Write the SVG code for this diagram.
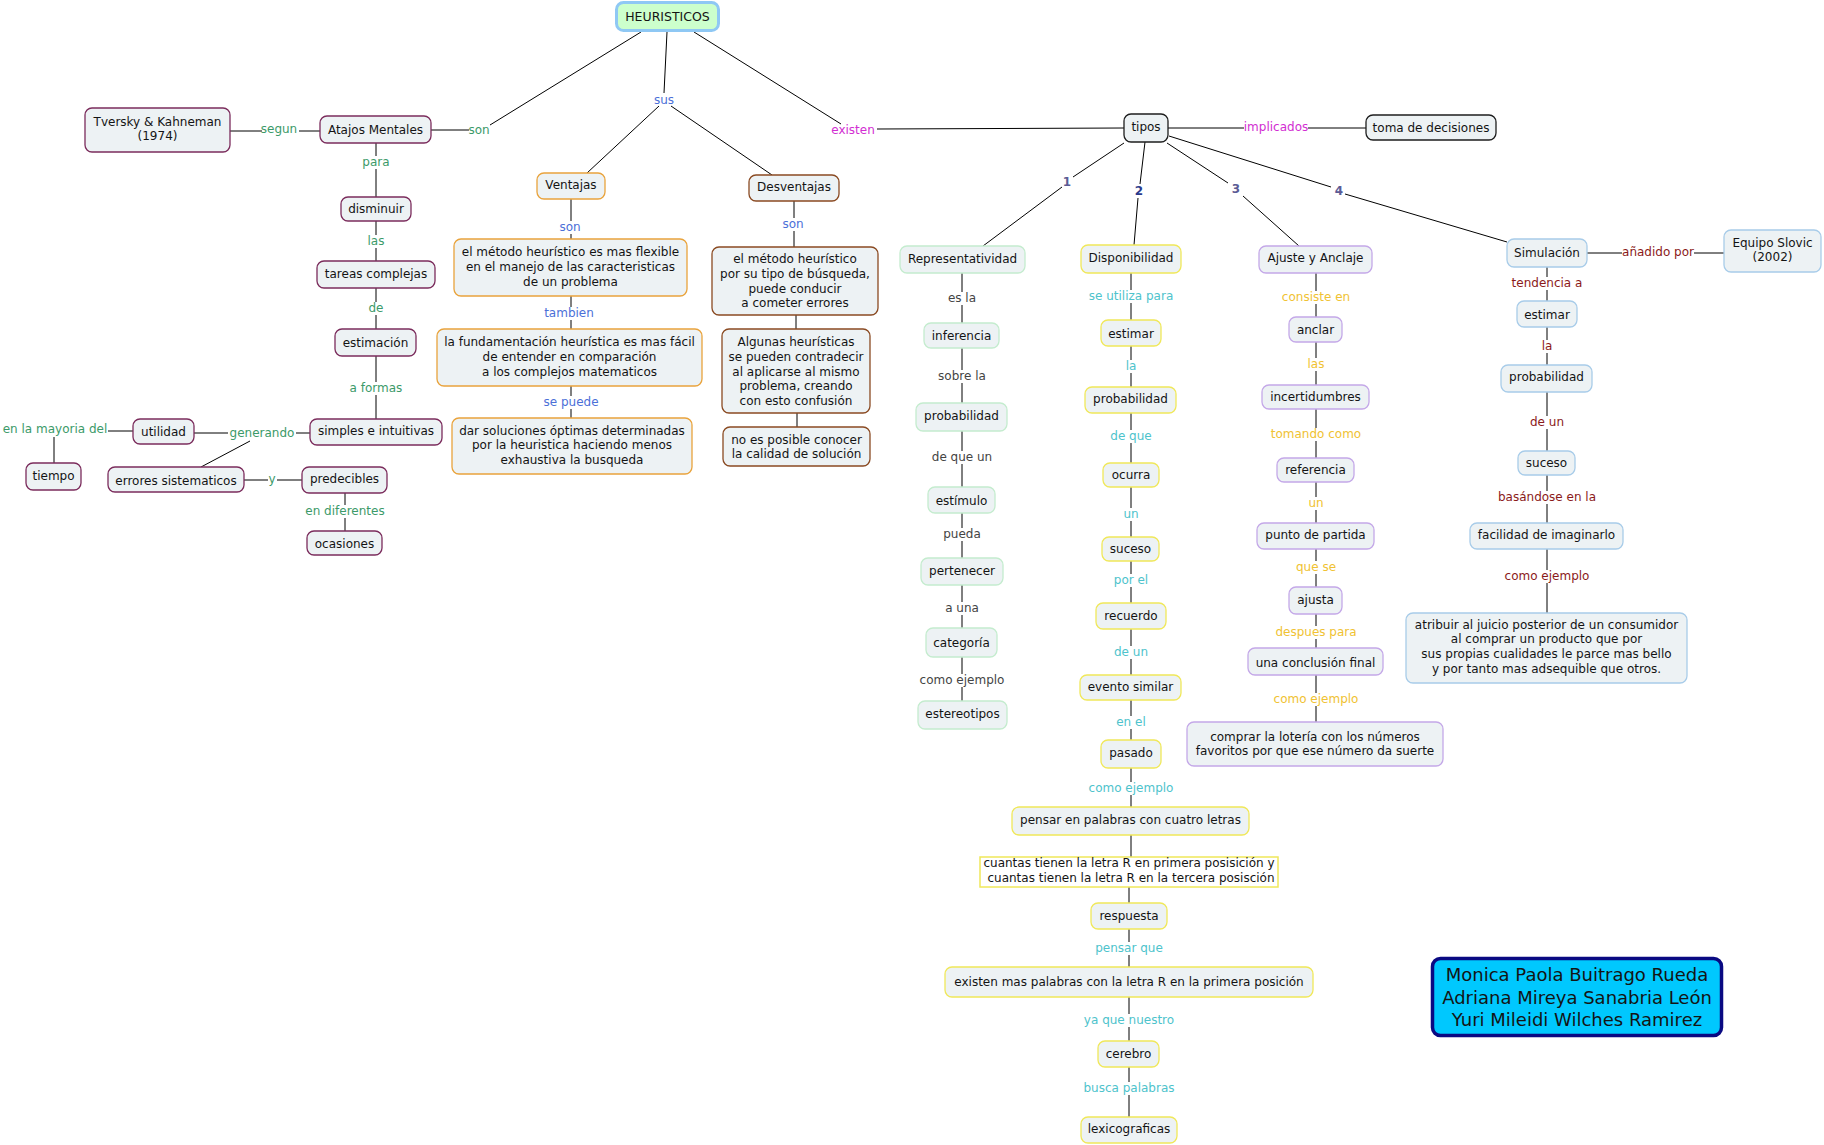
<svg xmlns="http://www.w3.org/2000/svg" width="1824" height="1145" viewBox="0 0 1824 1145">
<style>
text{font-family:"DejaVu Sans","Verdana",sans-serif;font-size:12px;text-anchor:middle}
.t{fill:#141414}
rect.n{fill:#edf2f4;stroke-width:1.3}
.ga{stroke:#7b2c5c}.gv{stroke:#e9a33c}.gd{stroke:#8a4a22}.gr{stroke:#c4ecce}.gp{stroke:#f0e85a}.gj{stroke:#c4a8e8}.gs{stroke:#a8cce9}.gt{stroke:#1e1e1e}
.la{fill:#3c9a69}.lv{fill:#4b70d8}.lr{fill:#444}.lp{fill:#4ec3cc}.lj{fill:#f0c232}.ls{fill:#8b1a1a}.lm{fill:#d22ed2}
.num{font-weight:bold;fill:#5b5b95}
#connectors path{fill:none;stroke:#000;stroke-width:1}
</style>
<rect width="1824" height="1145" fill="#fff"/>
<g id="connectors">
<path d="M230,131H262M299,131H320"/>
<path d="M431,130H469M490,125L641,32"/>
<path d="M376,143V156M376,169V197"/>
<path d="M376,221V235M376,248V261"/>
<path d="M376,288V302M376,315V329"/>
<path d="M376,356V382M376,395V419"/>
<path d="M194,433H228M296,433H310M250,441L201,467"/>
<path d="M108,431H133M54,437V463"/>
<path d="M244,480H268M277,480H302"/>
<path d="M345,493V505M345,518V531"/>
<path d="M667,32L664,93M659,106L587,173M671,106L772,175"/>
<path d="M571,199V221M571,234V239"/>
<path d="M571,296V307M571,320V329"/>
<path d="M571,386V396M571,409V418"/>
<path d="M794,201V218M794,231V247"/>
<path d="M796,315V329M797,413V427"/>
<path d="M694,32L841,124M877,129L1124,128"/>
<path d="M1168,128H1244M1308,128H1366"/>
<path d="M1124,143L1073,177M1062,187L983,246"/>
<path d="M1145,142L1140,184M1138,198L1134,245"/>
<path d="M1167,143L1228,183M1243,196L1299,246"/>
<path d="M1169,136L1331,187M1345,194L1507,242"/>
<path d="M962,273V292M962,305V323M962,348V370M962,383V403M962,431V451M962,464V487M962,513V528M962,541V558M962,585V602M962,615V628M962,657V674M962,687V701"/>
<path d="M1131,273V290M1131,303V320M1131,346V360M1131,373V387M1131,413V430M1131,443V463M1131,487V508M1131,521V537M1131,561V574M1131,587V603M1131,629V646M1131,659V675M1131,700V716M1131,729V740M1131,768V782M1131,795V807M1131,835V857"/>
<path d="M1129,887V903M1129,929V942M1129,955V967M1129,997V1014M1129,1027V1041M1129,1067V1082M1129,1095V1117"/>
<path d="M1316,273V291M1316,304V317M1316,342V358M1316,371V385M1316,409V428M1316,441V458M1316,482V497M1316,510V523M1316,549V561M1316,574V587M1316,614V626M1316,639V648M1316,675V693M1316,706V722"/>
<path d="M1587,253H1622M1694,253H1724"/>
<path d="M1547,267V277M1547,290V301M1547,327V340M1547,353V365M1547,392V416M1547,429V451M1547,475V491M1547,504V523M1547,549V570M1547,583V613"/>
</g>
<g id="labels">
<text class="la" x="279" y="133">segun</text>
<text class="la" x="479" y="134">son</text>
<text class="la" x="376" y="166">para</text>
<text class="la" x="376" y="245">las</text>
<text class="la" x="376" y="312">de</text>
<text class="la" x="376" y="392">a formas</text>
<text class="la" x="262" y="437">generando</text>
<text class="la" x="55" y="433">en la mayoria del</text>
<text class="la" x="272" y="483">y</text>
<text class="la" x="345" y="515">en diferentes</text>
<text class="lv" x="664" y="104">sus</text>
<text class="lv" x="570" y="231">son</text>
<text class="lv" x="569" y="317">tambien</text>
<text class="lv" x="571" y="406">se puede</text>
<text class="lv" x="793" y="228">son</text>
<text class="lm" x="853" y="134">existen</text>
<text class="lm" x="1276" y="131">implicados</text>
<text class="num" x="1067" y="186">1</text>
<text class="num" x="1139" y="195" style="fill:#2b3a8c">2</text>
<text class="num" x="1236" y="193">3</text>
<text class="num" x="1339" y="195">4</text>
<text class="lr" x="962" y="302">es la</text>
<text class="lr" x="962" y="380">sobre la</text>
<text class="lr" x="962" y="461">de que un</text>
<text class="lr" x="962" y="538">pueda</text>
<text class="lr" x="962" y="612">a una</text>
<text class="lr" x="962" y="684">como ejemplo</text>
<text class="lp" x="1131" y="300">se utiliza para</text>
<text class="lp" x="1131" y="370">la</text>
<text class="lp" x="1131" y="440">de que</text>
<text class="lp" x="1131" y="518">un</text>
<text class="lp" x="1131" y="584">por el</text>
<text class="lp" x="1131" y="656">de un</text>
<text class="lp" x="1131" y="726">en el</text>
<text class="lp" x="1131" y="792">como ejemplo</text>
<text class="lp" x="1129" y="952">pensar que</text>
<text class="lp" x="1129" y="1024">ya que nuestro</text>
<text class="lp" x="1129" y="1092">busca palabras</text>
<text class="lj" x="1316" y="301">consiste en</text>
<text class="lj" x="1316" y="368">las</text>
<text class="lj" x="1316" y="438">tomando como</text>
<text class="lj" x="1316" y="507">un</text>
<text class="lj" x="1316" y="571">que se</text>
<text class="lj" x="1316" y="636">despues para</text>
<text class="lj" x="1316" y="703">como ejemplo</text>
<text class="ls" x="1658" y="256">añadido por</text>
<text class="ls" x="1547" y="287">tendencia a</text>
<text class="ls" x="1547" y="350">la</text>
<text class="ls" x="1547" y="426">de un</text>
<text class="ls" x="1547" y="501">basándose en la</text>
<text class="ls" x="1547" y="580">como ejemplo</text>
</g>
<g id="heuristicos"><rect x="616.5" y="2.5" width="102" height="28" rx="7" fill="#ccffcc" stroke="#8fc8f4" stroke-width="3"/><text class="t" x="667.5" y="20.5" style="font-size:12.5px">HEURISTICOS</text></g>
<g id="tversky"><rect class="n ga" x="85" y="108" width="145" height="44" rx="7"/><text class="t" x="157.5" y="126">Tversky &amp; Kahneman</text><text class="t" x="157.5" y="140">(1974)</text></g>
<g id="atajos"><rect class="n ga" x="320" y="116" width="111" height="27" rx="7"/><text class="t" x="375.5" y="134">Atajos Mentales</text></g>
<g id="disminuir"><rect class="n ga" x="341" y="197" width="70" height="24" rx="7"/><text class="t" x="376" y="213">disminuir</text></g>
<g id="tareas"><rect class="n ga" x="317" y="261" width="118" height="27" rx="7"/><text class="t" x="376" y="278">tareas complejas</text></g>
<g id="estimacion"><rect class="n ga" x="335" y="329" width="81" height="27" rx="7"/><text class="t" x="375.5" y="347">estimación</text></g>
<g id="simples"><rect class="n ga" x="310" y="419" width="132" height="26" rx="7"/><text class="t" x="376" y="435">simples e intuitivas</text></g>
<g id="utilidad"><rect class="n ga" x="133" y="419" width="61" height="25" rx="7"/><text class="t" x="163.5" y="436">utilidad</text></g>
<g id="tiempo"><rect class="n ga" x="26" y="463" width="55" height="27" rx="7"/><text class="t" x="53.5" y="480">tiempo</text></g>
<g id="errores"><rect class="n ga" x="108" y="467" width="136" height="25" rx="7"/><text class="t" x="176" y="485">errores sistematicos</text></g>
<g id="predecibles"><rect class="n ga" x="302" y="467" width="85" height="26" rx="7"/><text class="t" x="344.5" y="483">predecibles</text></g>
<g id="ocasiones"><rect class="n ga" x="307" y="531" width="75" height="24" rx="7"/><text class="t" x="344.5" y="548">ocasiones</text></g>
<g id="ventajas"><rect class="n gv" x="537" y="173" width="68" height="26" rx="7"/><text class="t" x="571" y="189">Ventajas</text></g>
<g id="flexible"><rect class="n gv" x="454" y="239" width="233" height="57" rx="7"/><text class="t" x="570.5" y="256">el método heurístico es mas flexible</text><text class="t" x="570.5" y="271">en el manejo de las caracteristicas</text><text class="t" x="570.5" y="286">de un problema</text></g>
<g id="fundamentacion"><rect class="n gv" x="437" y="329" width="265" height="57" rx="7"/><text class="t" x="569.5" y="346">la fundamentación heurística es mas fácil</text><text class="t" x="569.5" y="361">de entender en comparación</text><text class="t" x="569.5" y="376">a los complejos matematicos</text></g>
<g id="soluciones"><rect class="n gv" x="452" y="418" width="240" height="56" rx="7"/><text class="t" x="572" y="435">dar soluciones óptimas determinadas</text><text class="t" x="572" y="449">por la heuristica haciendo menos</text><text class="t" x="572" y="464">exhaustiva la busqueda</text></g>
<g id="desventajas"><rect class="n gd" x="749" y="175" width="90" height="26" rx="7"/><text class="t" x="794" y="191">Desventajas</text></g>
<g id="metodo"><rect class="n gd" x="712" y="247" width="166" height="68" rx="7"/><text class="t" x="795" y="263">el método heurístico</text><text class="t" x="795" y="278">por su tipo de búsqueda,</text><text class="t" x="795" y="293">puede conducir</text><text class="t" x="795" y="307">a cometer errores</text></g>
<g id="algunas"><rect class="n gd" x="722" y="329" width="148" height="84" rx="7"/><text class="t" x="796" y="346">Algunas heurísticas</text><text class="t" x="796" y="361">se pueden contradecir</text><text class="t" x="796" y="376">al aplicarse al mismo</text><text class="t" x="796" y="390">problema, creando</text><text class="t" x="796" y="405">con esto confusión</text></g>
<g id="noes"><rect class="n gd" x="723" y="427" width="147" height="39" rx="7"/><text class="t" x="796.5" y="444">no es posible conocer</text><text class="t" x="796.5" y="458">la calidad de solución</text></g>
<g id="tipos"><rect class="n gt" x="1124" y="114" width="44" height="28" rx="7"/><text class="t" x="1146" y="131">tipos</text></g>
<g id="toma"><rect class="n gt" x="1366" y="115" width="130" height="25" rx="7"/><text class="t" x="1431" y="132">toma de decisiones</text></g>
<g id="representatividad"><rect class="n gr" x="900" y="246" width="125" height="27" rx="7"/><text class="t" x="962.5" y="263">Representatividad</text></g>
<g id="inferencia"><rect class="n gr" x="924" y="323" width="75" height="25" rx="7"/><text class="t" x="961.5" y="340">inferencia</text></g>
<g id="probabilidad1"><rect class="n gr" x="916" y="403" width="91" height="28" rx="7"/><text class="t" x="961.5" y="420">probabilidad</text></g>
<g id="estimulo"><rect class="n gr" x="928" y="487" width="67" height="26" rx="7"/><text class="t" x="961.5" y="505">estímulo</text></g>
<g id="pertenecer"><rect class="n gr" x="921" y="558" width="82" height="27" rx="7"/><text class="t" x="962" y="575">pertenecer</text></g>
<g id="categoria"><rect class="n gr" x="926" y="628" width="71" height="29" rx="7"/><text class="t" x="961.5" y="647">categoría</text></g>
<g id="estereotipos"><rect class="n gr" x="918" y="701" width="89" height="28" rx="7"/><text class="t" x="962.5" y="718">estereotipos</text></g>
<g id="disponibilidad"><rect class="n gp" x="1081" y="245" width="100" height="28" rx="7"/><text class="t" x="1131" y="262">Disponibilidad</text></g>
<g id="estimar1"><rect class="n gp" x="1101" y="320" width="60" height="26" rx="7"/><text class="t" x="1131" y="338">estimar</text></g>
<g id="probabilidad2"><rect class="n gp" x="1085" y="387" width="91" height="26" rx="7"/><text class="t" x="1130.5" y="403">probabilidad</text></g>
<g id="ocurra"><rect class="n gp" x="1103" y="463" width="56" height="24" rx="7"/><text class="t" x="1131" y="479">ocurra</text></g>
<g id="suceso1"><rect class="n gp" x="1102" y="537" width="57" height="24" rx="7"/><text class="t" x="1130.5" y="553">suceso</text></g>
<g id="recuerdo"><rect class="n gp" x="1096" y="603" width="70" height="26" rx="7"/><text class="t" x="1131" y="620">recuerdo</text></g>
<g id="evento"><rect class="n gp" x="1080" y="675" width="101" height="25" rx="7"/><text class="t" x="1130.5" y="691">evento similar</text></g>
<g id="pasado"><rect class="n gp" x="1101" y="740" width="60" height="28" rx="7"/><text class="t" x="1131" y="757">pasado</text></g>
<g id="pensar"><rect class="n gp" x="1012" y="807" width="237" height="28" rx="7"/><text class="t" x="1130.5" y="824">pensar en palabras con cuatro letras</text></g>
<g id="cuantas"><rect x="980" y="857" width="298" height="30" fill="#fff" stroke="#f0e85a" stroke-width="1.5"/><text class="t" x="1129" y="867">cuantas tienen la letra R en primera posisición y</text><text class="t" x="1131" y="882">cuantas tienen la letra R en la tercera posisción</text></g>
<g id="respuesta"><rect class="n gp" x="1091" y="903" width="76" height="26" rx="7"/><text class="t" x="1129" y="920">respuesta</text></g>
<g id="existenmas"><rect class="n gp" x="945" y="967" width="368" height="30" rx="7"/><text class="t" x="1129" y="986">existen mas palabras con la letra R en la primera posición</text></g>
<g id="cerebro"><rect class="n gp" x="1098" y="1041" width="61" height="26" rx="7"/><text class="t" x="1128.5" y="1058">cerebro</text></g>
<g id="lexicograficas"><rect class="n gp" x="1081" y="1117" width="96" height="26" rx="7"/><text class="t" x="1129" y="1133">lexicograficas</text></g>
<g id="ajuste"><rect class="n gj" x="1259" y="246" width="113" height="27" rx="7"/><text class="t" x="1315.5" y="262">Ajuste y Anclaje</text></g>
<g id="anclar"><rect class="n gj" x="1289" y="317" width="53" height="25" rx="7"/><text class="t" x="1315.5" y="334">anclar</text></g>
<g id="incertidumbres"><rect class="n gj" x="1262" y="385" width="107" height="24" rx="7"/><text class="t" x="1315.5" y="401">incertidumbres</text></g>
<g id="referencia"><rect class="n gj" x="1277" y="458" width="77" height="24" rx="7"/><text class="t" x="1315.5" y="474">referencia</text></g>
<g id="punto"><rect class="n gj" x="1257" y="523" width="117" height="26" rx="7"/><text class="t" x="1315.5" y="539">punto de partida</text></g>
<g id="ajusta"><rect class="n gj" x="1289" y="587" width="53" height="27" rx="7"/><text class="t" x="1315.5" y="604">ajusta</text></g>
<g id="conclusion"><rect class="n gj" x="1248" y="648" width="135" height="27" rx="7"/><text class="t" x="1315.5" y="667">una conclusión final</text></g>
<g id="comprar"><rect class="n gj" x="1187" y="722" width="256" height="44" rx="7"/><text class="t" x="1315" y="741">comprar la lotería con los números</text><text class="t" x="1315" y="755">favoritos por que ese número da suerte</text></g>
<g id="simulacion"><rect class="n gs" x="1507" y="239" width="80" height="28" rx="7"/><text class="t" x="1547" y="257">Simulación</text></g>
<g id="slovic"><rect class="n gs" x="1724" y="230" width="97" height="42" rx="7"/><text class="t" x="1772.5" y="247">Equipo Slovic</text><text class="t" x="1772.5" y="261">(2002)</text></g>
<g id="estimar2"><rect class="n gs" x="1517" y="301" width="60" height="26" rx="7"/><text class="t" x="1547" y="319">estimar</text></g>
<g id="probabilidad3"><rect class="n gs" x="1501" y="365" width="91" height="27" rx="7"/><text class="t" x="1546.5" y="381">probabilidad</text></g>
<g id="suceso2"><rect class="n gs" x="1518" y="451" width="57" height="24" rx="7"/><text class="t" x="1546.5" y="467">suceso</text></g>
<g id="facilidad"><rect class="n gs" x="1470" y="523" width="153" height="26" rx="7"/><text class="t" x="1546.5" y="539">facilidad de imaginarlo</text></g>
<g id="atribuir"><rect class="n gs" x="1406" y="613" width="281" height="70" rx="7"/><text class="t" x="1546.5" y="629">atribuir al juicio posterior de un consumidor</text><text class="t" x="1546.5" y="643">al comprar un producto que por</text><text class="t" x="1546.5" y="658">sus propias cualidades le parce mas bello</text><text class="t" x="1546.5" y="673">y por tanto mas adsequible que otros.</text></g>
<g id="autores"><rect x="1432.5" y="958.5" width="289" height="77" rx="8" fill="#00c8fe" stroke="#0a0a82" stroke-width="3.5"/><text class="t" x="1577" y="981" style="font-size:18px">Monica Paola Buitrago Rueda</text><text class="t" x="1577" y="1004" style="font-size:18px">Adriana Mireya Sanabria León</text><text class="t" x="1577" y="1026" style="font-size:18px">Yuri Mileidi Wilches Ramirez</text></g>
</svg>
